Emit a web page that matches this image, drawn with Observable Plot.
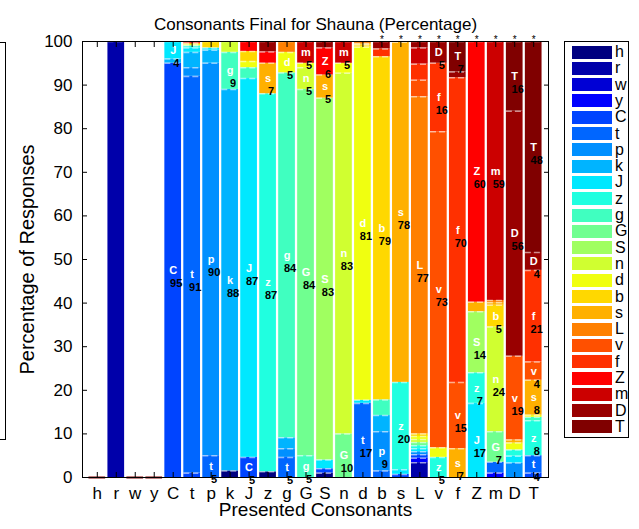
<!DOCTYPE html>
<html><head><meta charset="utf-8">
<script src="https://cdn.jsdelivr.net/npm/d3@7"></script>
<script src="https://cdn.jsdelivr.net/npm/@observablehq/plot@0.6"></script>
<style>
body{margin:0;background:#fff;font-family:"Liberation Sans",Arial,Helvetica,sans-serif;}
#wrap{position:relative;width:639px;height:529px;overflow:hidden;background:#fff;}
#wrap svg{position:absolute;left:0;top:0;}
#legend{position:absolute;left:564px;top:41px;width:65px;height:397px;border:1px solid #000;box-sizing:border-box;background:#fff;}
.row{position:absolute;left:7px;height:14px;display:flex;align-items:center;}
.sw{width:40px;height:13px;}
.lab{margin-left:3px;font-size:16px;line-height:14px;color:#000;}
#clip{position:absolute;left:-70px;top:42px;width:74px;height:396px;border:1px solid #000;}
</style></head><body>
<div id="wrap"><div id="clip"></div><div id="legend"></div></div>
<script>
const responses = ["h","r","w","y","C","t","p","k","J","z","g","G","S","n","d","b","s","L","v","f","Z","m","D","T"];
const presented = ["h","r","w","y","C","t","p","k","J","z","g","G","S","n","d","b","s","L","v","f","Z","m","D","T"];
const colors = ["#000080","#0000AA","#0000D5","#0000FF","#0044FF","#0066FF","#0090FF","#00B4FF","#00E8FF","#20FFE0","#40FFC0","#70FF90","#A0FF60","#D0FF30","#F0FF10","#FFD800","#FFB000","#FF8000","#FF5000","#FF3000","#FF0000","#CC0000","#990000","#800000"];
const yTicks = [0,10,20,30,40,50,60,70,80,90,100];
const starred = ["b","s","L","v","f","Z","m","D","T"];
const titleText = "Consonants Final for Shauna (Percentage)";
const xLabel = "Presented Consonants";
const yLabel = "Percentage of Responses";

// responses given to each presented consonant: [response, percent]
const resp_h = [];
const resp_r = [["r",100]];
const resp_w = [];
const resp_y = [];
const resp_C = [["C",95],["k",1],["J",4]];
const resp_t = [["C",1],["t",91],["p",2],["k",3.5],["J",1],["z",0.5],["d",0.3],["s",0.3],["Z",0.4]];
const resp_p = [["t",5],["p",90],["k",3],["J",0.5],["b",1.5]];
const resp_k = [["h",1.5],["k",87.5],["g",8.5],["n",2.5]];
const resp_J = [["C",4.6],["J",86.9],["g",2.5],["d",1.4],["b",2.3],["Z",2.3]];
const resp_z = [["h",1.3],["z",86.7],["s",7],["Z",2.6],["D",2.4]];
const resp_g = [["t",4.6],["p",2],["k",2.5],["g",83.7],["d",4.7],["L",2.5]];
const resp_G = [["g",5],["G",84],["n",5],["d",1],["m",5]];
const resp_S = [["h",1],["C",1],["J",2],["S",83],["s",5.3],["Z",6.2],["D",1.5]];
const resp_n = [["G",10],["n",82.7],["d",2.3],["m",5]];
const resp_d = [["t",17],["J",0.7],["d",81],["b",0.5],["s",0.3],["L",0.5]];
const resp_b = [["t",1.5],["p",9],["k",3.7],["g",3.6],["b",78.7],["f",1.8],["D",1.7]];
const resp_s = [["C",0.7],["J",1.1],["z",20],["s",78],["Z",0.2]];
const resp_L = [["r",3.4],["y",1],["C",0.8],["p",0.7],["J",0.7],["z",0.7],["G",0.7],["n",0.7],["d",0.7],["b",0.6],["L",77.3],["v",3.8],["f",3.7],["m",3.7],["D",1.5]];
const resp_v = [["z",4.6],["d",2.2],["v",72.5],["f",15.7],["D",5]];
const resp_f = [["s",6.6],["v",15.2],["f",69.9],["D",1.3],["T",7]];
const resp_Z = [["J",17],["z",7],["S",14],["s",2.2],["Z",59.8]];
const resp_m = [["y",1],["t",2.5],["G",7],["n",24],["b",5],["s",0.6],["L",0.5],["m",59.4]];
const resp_D = [["p",3.3],["J",1.6],["z",1.4],["d",1.6],["s",0.7],["v",19.2],["D",56.2],["T",16]];
const resp_T = [["C",1],["t",4],["z",8],["g",0.8],["d",0.5],["s",8],["v",4.2],["f",21],["D",4.1],["T",48.4]];

const columns = {h:resp_h,r:resp_r,w:resp_w,y:resp_y,C:resp_C,t:resp_t,p:resp_p,k:resp_k,J:resp_J,z:resp_z,g:resp_g,G:resp_G,S:resp_S,n:resp_n,d:resp_d,b:resp_b,s:resp_s,L:resp_L,v:resp_v,f:resp_f,Z:resp_Z,m:resp_m,D:resp_D,T:resp_T};
const data = presented.flatMap(p => columns[p].map(([response, value]) => ({presented: p, response, value})));
const empty = presented.filter(p => columns[p].length === 0);
const showLabel = d => d.value >= 4 && d.value < 100;

const st = {x: "presented", y: "value", z: "response", order: responses};
const font = "Liberation Sans, Arial, Helvetica, sans-serif";

const chart = Plot.plot({
  width: 639, height: 529,
  marginLeft: 82, marginRight: 91, marginTop: 41, marginBottom: 52,
  style: {fontFamily: font, background: "transparent", color: "#000", overflow: "visible"},
  x: {type: "band", domain: presented, paddingInner: 0.12, paddingOuter: 0.34, round: false, label: null},
  y: {domain: [0, 100], label: null},
  color: {domain: responses, range: colors},
  marks: [
    Plot.barY(data, Plot.stackY({...st, fill: "response"})),
    Plot.tickY(data, Plot.stackY2({...st, stroke: "white", strokeOpacity: 0.55, strokeWidth: 1.5, strokeDasharray: "6,3"})),
    Plot.tickY(empty, {x: d => d, y: 0, stroke: "#800000", strokeWidth: 2}),
    Plot.text(data, Plot.stackY({...st, text: d => showLabel(d) ? d.response : "", fill: "white", fontWeight: "bold", fontSize: 11})),
    Plot.text(data, Plot.stackY({...st, text: d => showLabel(d) ? String(Math.round(d.value)) : "", fill: "black", fontWeight: "bold", fontSize: 11, dy: 13, dx: 3})),
    Plot.text(starred, {x: d => d, y: 100, text: () => "*", dy: -2, fontSize: 10}),
    Plot.frame({stroke: "black"}),
    Plot.axisY({ticks: yTicks, tickSize: -5, tickPadding: 15, fontSize: 17, label: null}),
    Plot.axisY({anchor: "right", ticks: yTicks, tickSize: -5, tickFormat: () => "", label: null}),
    Plot.axisX({tickSize: -5, tickPadding: 14, fontSize: 17, label: null}),
    Plot.axisX({anchor: "top", tickSize: -5, tickFormat: () => "", label: null}),
    Plot.text([yLabel], {frameAnchor: "left", textAnchor: "middle", dx: -55, rotate: -90, fontSize: 20}),
    Plot.text([xLabel], {frameAnchor: "bottom", textAnchor: "middle", dy: 38, fontSize: 19}),
    Plot.text([titleText], {frameAnchor: "top", textAnchor: "middle", dy: -24, fontSize: 17})
  ]
});
document.getElementById("wrap").prepend(chart);

const legend = document.getElementById("legend");
responses.forEach((r, i) => {
  const row = document.createElement("div");
  row.className = "row";
  row.style.top = (3 + i * 16.3) + "px";
  const sw = document.createElement("div");
  sw.className = "sw";
  sw.style.background = colors[i];
  const lab = document.createElement("span");
  lab.className = "lab";
  lab.textContent = r;
  row.append(sw, lab);
  legend.append(row);
});
</script>
</body></html>
